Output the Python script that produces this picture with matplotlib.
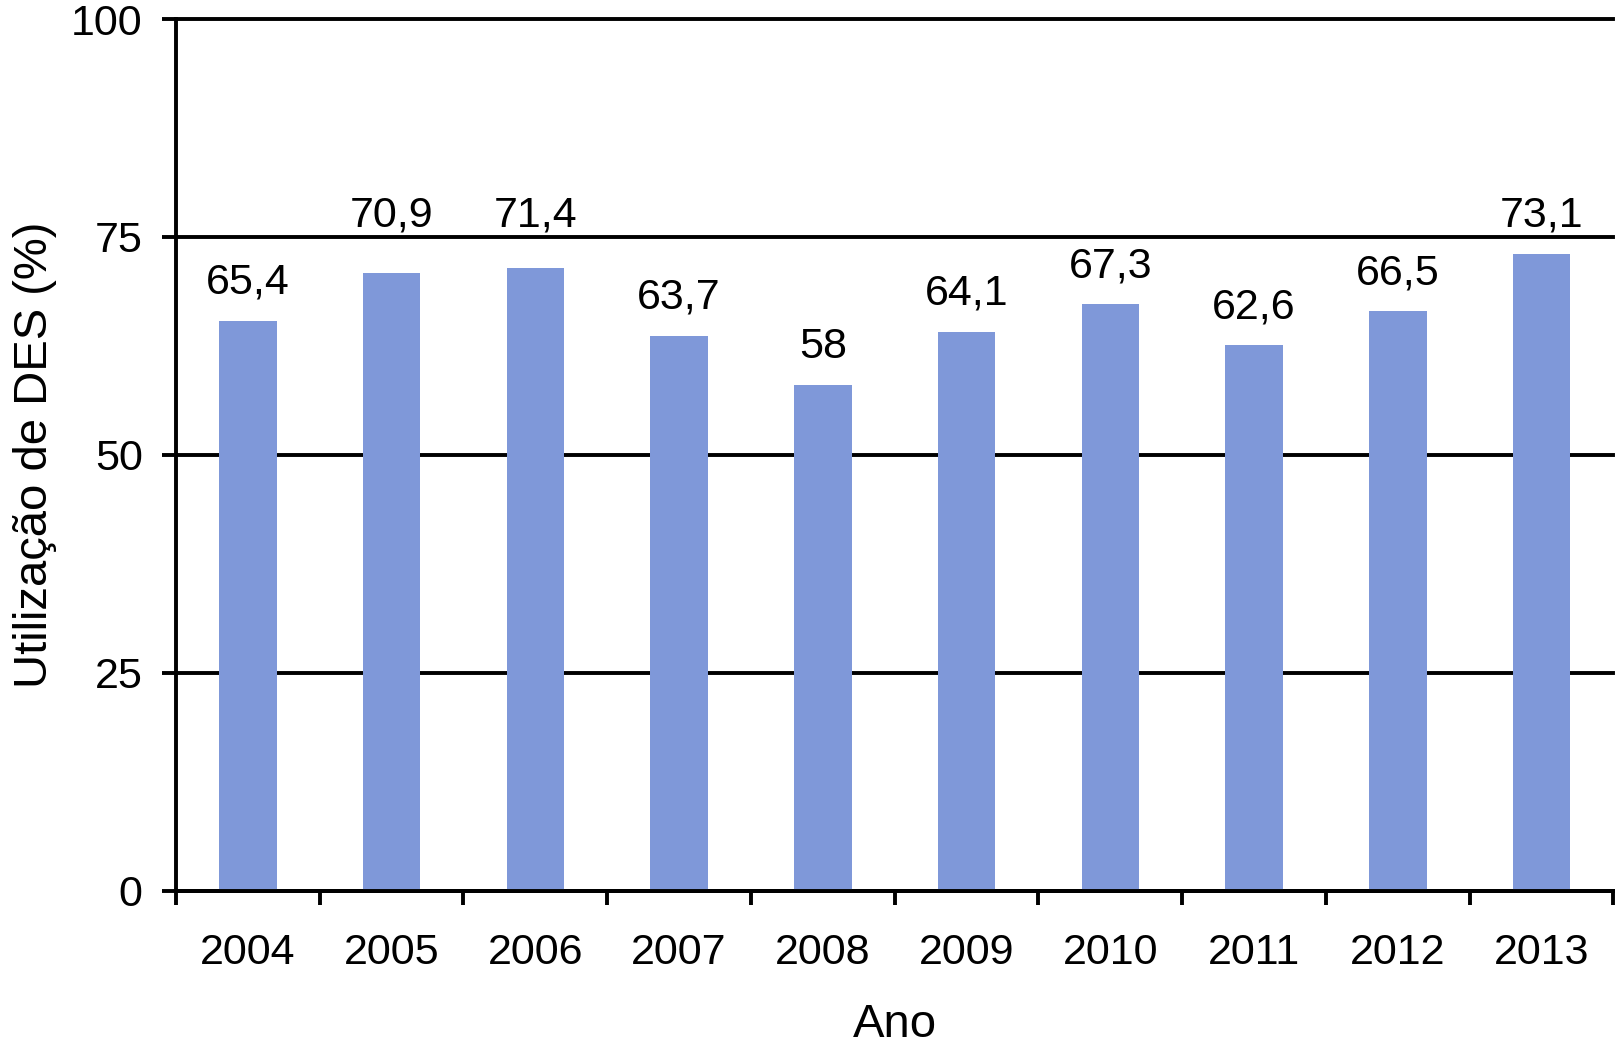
import matplotlib
matplotlib.use('Agg')
import matplotlib.pyplot as plt
import numpy as np

anos = ['2004', '2005', '2006', '2007', '2008', '2009', '2010', '2011', '2012', '2013']
utilizacao = [65.4, 70.9, 71.4, 63.7, 58.0, 64.1, 67.3, 62.6, 66.5, 73.1]
y_ticks = [0, 25, 50, 75, 100]

plt.rcParams['font.family'] = ['Liberation Sans', 'DejaVu Sans']

fig = plt.figure(figsize=(16.17, 10.58), dpi=100)
ax = fig.add_axes([0.1088, 0.158, 0.889, 0.824])

x = np.arange(len(anos))
ax.bar(x, utilizacao, width=0.40, color='#7F98D9', zorder=3)

for xi, v in zip(x, utilizacao):
    txt = f'{v:g}'.replace('.', ',')
    # labels that would sit on the 75 gridline are lifted above it
    anchor = 73.1 if 68.5 < v < 73.1 else v
    ax.annotate(txt, (xi, anchor), xytext=(0, 13), textcoords='offset points',
                ha='center', va='bottom', fontsize=31)

ax.set_xlim(-0.5, len(anos) - 0.5)
ax.set_ylim(0, 100)
ax.set_yticks(y_ticks)
ax.set_yticklabels([str(t) for t in y_ticks], fontsize=31)
ax.yaxis.grid(True, color='black', linewidth=2.8, zorder=1)
ax.set_axisbelow(True)
for gl in ax.get_ygridlines():
    gl.set_clip_on(False)

# category ticks sit on the boundaries
ax.set_xticks(np.arange(len(anos) + 1) - 0.5)
ax.set_xticklabels([])
ax.set_xticks(x, minor=True)
ax.set_xticklabels(anos, minor=True, fontsize=31)
ax.tick_params(axis='x', which='major', length=10, width=2.8, direction='out')
ax.tick_params(axis='x', which='minor', length=0, pad=30)
ax.tick_params(axis='y', length=10, width=2.8, direction='out', pad=14)

for s in ['top', 'right']:
    ax.spines[s].set_visible(False)
for s in ['left', 'bottom']:
    ax.spines[s].set_linewidth(2.8)
    ax.spines[s].set_zorder(4)

ax.set_xlabel('Ano', fontsize=34, labelpad=22)
ax.set_ylabel('Utilização de DES (%)', fontsize=34, labelpad=10)

fig.savefig('out.png', dpi=100)
plt.close(fig)
